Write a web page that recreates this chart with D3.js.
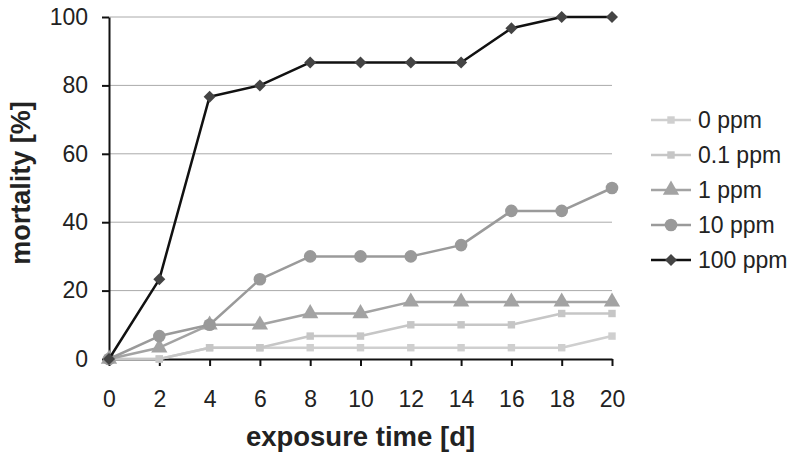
<!DOCTYPE html>
<html>
<head>
<meta charset="utf-8">
<script src="https://cdn.jsdelivr.net/npm/d3@7"></script>
<style>
  body { margin: 0; background: #fff; }
  text { font-family: "Liberation Sans", Arial, sans-serif; fill: #222; }
</style>
</head>
<body>
<script>
const days = [0, 2, 4, 6, 8, 10, 12, 14, 16, 18, 20];
const yTicks = [0, 20, 40, 60, 80, 100];

const ppm0 = [0, 0, 3.3, 3.3, 3.3, 3.3, 3.3, 3.3, 3.3, 3.3, 6.7];
const ppm01 = [0, 0, 3.3, 3.3, 6.7, 6.7, 10, 10, 10, 13.3, 13.3];
const ppm1 = [0, 3.3, 10, 10, 13.3, 13.3, 16.7, 16.7, 16.7, 16.7, 16.7];
const ppm10 = [0, 6.7, 10, 23.3, 30, 30, 30, 33.3, 43.3, 43.3, 50];
const ppm100 = [0, 23.3, 76.7, 80, 86.7, 86.7, 86.7, 86.7, 96.7, 100, 100];

const seriesNames = ['0 ppm', '0.1 ppm', '1 ppm', '10 ppm', '100 ppm'];

const width = 800;
const height = 464;
const margin = { top: 17, right: 188, bottom: 105, left: 109 };
const plotWidth = width - margin.left - margin.right;
const plotHeight = height - margin.top - margin.bottom;

// diamond = square turned 45 degrees
const series = [
  { name: seriesNames[0], values: ppm0, line: '#cfcfcf', fill: '#cfcfcf', shape: d3.symbolSquare, size: 55, rot: 0 },
  { name: seriesNames[1], values: ppm01, line: '#c6c6c6', fill: '#c6c6c6', shape: d3.symbolSquare, size: 55, rot: 0 },
  { name: seriesNames[2], values: ppm1, line: '#a3a3a3', fill: '#a3a3a3', shape: d3.symbolTriangle, size: 115, rot: 0 },
  { name: seriesNames[3], values: ppm10, line: '#9a9a9a', fill: '#999', shape: d3.symbolCircle, size: 125, rot: 0 },
  { name: seriesNames[4], values: ppm100, line: '#111', fill: '#444', shape: d3.symbolSquare, size: 72, rot: 45 }
];

const svg = d3.select('body').append('svg')
    .attr('width', width)
    .attr('height', height);

const g = svg.append('g')
    .attr('transform', `translate(${margin.left},${margin.top})`);

const x = d3.scaleLinear().domain([0, 20]).range([0, plotWidth]);
const y = d3.scaleLinear().domain([0, 100]).range([plotHeight, 0]);

// gridlines
g.append('g')
  .selectAll('line')
  .data(yTicks.filter(d => d > 0))
  .join('line')
    .attr('x1', 0)
    .attr('x2', plotWidth)
    .attr('y1', d => y(d))
    .attr('y2', d => y(d))
    .attr('stroke', '#aaa')
    .attr('stroke-width', 1);

// axes
const xAxis = g.append('g')
    .attr('transform', `translate(0,${plotHeight})`)
    .call(d3.axisBottom(x).tickValues(days).tickSize(7).tickSizeOuter(0).tickPadding(25));

const yAxis = g.append('g')
    .call(d3.axisLeft(y).tickValues(yTicks).tickSize(7).tickSizeOuter(0).tickPadding(14));

[xAxis, yAxis].forEach(a => {
  a.select('.domain').attr('stroke', '#111').attr('stroke-width', 2);
  a.selectAll('.tick line').attr('stroke', '#111').attr('stroke-width', 2);
  a.selectAll('.tick text')
      .attr('font-size', 23)
      .attr('fill', '#333')
      .style('font-family', '"Liberation Sans", Arial, sans-serif');
});

// lines and markers
series.forEach(s => {
  const line = d3.line()
      .x((d, i) => x(days[i]))
      .y(d => y(d));

  g.append('path')
      .attr('d', line(s.values))
      .attr('fill', 'none')
      .attr('stroke', s.line)
      .attr('stroke-width', 2.5)
      .attr('stroke-linejoin', 'round');

  g.append('g')
    .selectAll('path')
    .data(s.values)
    .join('path')
      .attr('transform', (d, i) => `translate(${x(days[i])},${y(d)}) rotate(${s.rot})`)
      .attr('d', d3.symbol().type(s.shape).size(s.size))
      .attr('fill', s.fill);
});

// legend
const legend = svg.append('g')
    .attr('transform', 'translate(651,120)');

const rows = legend.selectAll('g')
    .data(series)
    .join('g')
    .attr('transform', (d, i) => `translate(0,${i * 35})`);

rows.append('line')
    .attr('x1', 0)
    .attr('x2', 40)
    .attr('stroke', d => d.line)
    .attr('stroke-width', 2.5);

rows.append('path')
    .attr('transform', d => `translate(20,0) rotate(${d.rot})`)
    .attr('d', d => d3.symbol().type(d.shape).size(d.size)())
    .attr('fill', d => d.fill);

rows.append('text')
    .attr('x', 47)
    .attr('dy', '0.35em')
    .attr('font-size', 23)
    .attr('fill', '#333')
    .text(d => d.name);

// axis titles
svg.append('text')
    .attr('transform', 'translate(30,183) rotate(-90)')
    .attr('text-anchor', 'middle')
    .attr('font-size', 27)
    .attr('font-weight', 'bold')
    .text('mortality [%]');

svg.append('text')
    .attr('x', margin.left + plotWidth / 2)
    .attr('y', 446)
    .attr('text-anchor', 'middle')
    .attr('font-size', 27.5)
    .attr('font-weight', 'bold')
    .text('exposure time [d]');
</script>
</body>
</html>
